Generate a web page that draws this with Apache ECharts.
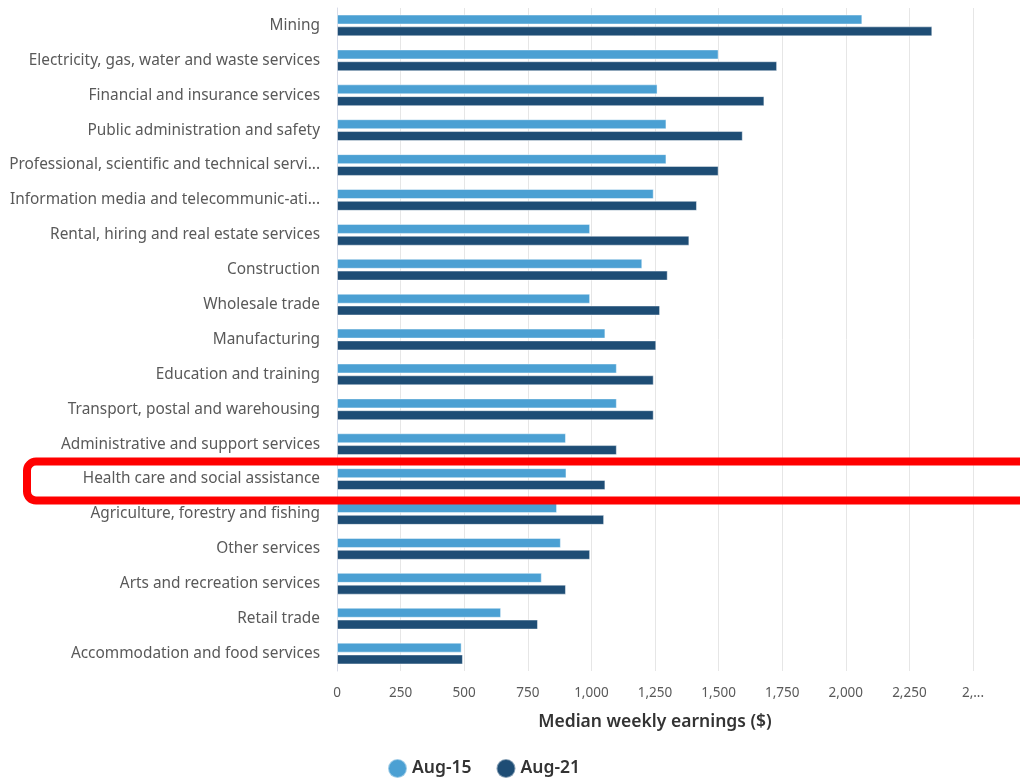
<!DOCTYPE html>
<html>
<head>
<meta charset="utf-8">
<script src="https://cdn.jsdelivr.net/npm/echarts@6/dist/echarts.min.js"></script>
<style>
  html, body { margin: 0; padding: 0; background: #ffffff; }
  #chart { width: 1020px; height: 780px; }
</style>
</head>
<body>
<div id="chart"></div>
<script>
// Industries, highest to lowest median weekly earnings (Aug-21)
const industries = [
  'Mining',
  'Electricity, gas, water and waste services',
  'Financial and insurance services',
  'Public administration and safety',
  'Professional, scientific and technical services',
  'Information media and telecommunic-ations',
  'Rental, hiring and real estate services',
  'Construction',
  'Wholesale trade',
  'Manufacturing',
  'Education and training',
  'Transport, postal and warehousing',
  'Administrative and support services',
  'Health care and social assistance',
  'Agriculture, forestry and fishing',
  'Other services',
  'Arts and recreation services',
  'Retail trade',
  'Accommodation and food services'
];

// Median weekly earnings ($)
const aug15 = [2065, 1500, 1260, 1295, 1295, 1245, 995, 1200, 995, 1055, 1100, 1100, 900, 902, 865, 880, 805, 645, 490];
const aug21 = [2340, 1730, 1680, 1595, 1500, 1415, 1385, 1300, 1270, 1255, 1245, 1245, 1100, 1055, 1050, 995, 900, 790, 495];

const seriesNames = ['Aug-15', 'Aug-21'];
const xTicks = { min: 0, max: 2500, step: 250 };
const highlighted = 'Health care and social assistance';

const chart = echarts.init(document.getElementById('chart'));

function fmt(v) {
  const s = String(v).replace(/\B(?=(\d{3})+(?!\d))/g, ',');
  return v >= xTicks.max ? s.slice(0, 2) + '...' : s;
}

chart.setOption({
  animation: false,
  textStyle: { fontFamily: '"Noto Sans", "Open Sans", sans-serif' },
  grid: { left: 337, right: 47, top: 8, bottom: 109 },
  legend: {
    data: seriesNames,
    left: 382,
    top: 753,
    icon: 'circle',
    itemWidth: 19,
    itemHeight: 19,
    itemGap: 24,
    textStyle: { fontSize: 17.5, fontWeight: 600, color: '#333333' }
  },
  xAxis: {
    type: 'value',
    min: xTicks.min,
    max: xTicks.max,
    interval: xTicks.step,
    name: 'Median weekly earnings ($)',
    nameLocation: 'middle',
    nameGap: 42,
    nameTextStyle: { fontSize: 17.5, fontWeight: 600, color: '#333333' },
    axisLine: { show: false },
    axisTick: { show: false },
    axisLabel: { fontSize: 13.5, color: '#595959', margin: 15, formatter: fmt },
    splitLine: { lineStyle: { color: '#e6e6e6', width: 1 } }
  },
  yAxis: {
    type: 'category',
    inverse: true,
    data: industries,
    axisTick: { show: false },
    axisLine: { lineStyle: { color: '#d8dbe8', width: 1 } },
    axisLabel: {
      fontSize: 15.4,
      color: '#595959',
      margin: 17,
      width: 315,
      overflow: 'truncate',
      ellipsis: '...'
    }
  },
  series: [
    {
      name: seriesNames[0],
      type: 'bar',
      data: aug15,
      barWidth: 10,
      barGap: '18%',
      itemStyle: { color: '#4ba0d3', borderColor: 'rgba(255,255,255,0.45)', borderWidth: 1 }
    },
    {
      name: seriesNames[1],
      type: 'bar',
      data: aug21,
      barWidth: 10,
      itemStyle: { color: '#1e4d75', borderColor: 'rgba(255,255,255,0.45)', borderWidth: 1 }
    }
  ]
});

// Red call-out box around the highlighted industry row
const yc = chart.convertToPixel({ yAxisIndex: 0 }, highlighted) + 2;
chart.setOption({
  graphic: [{
    type: 'rect',
    z: 100,
    shape: { x: 27, y: yc - 19.5, width: 1010, height: 39, r: 9 },
    style: { fill: 'none', stroke: '#ff0000', lineWidth: 8 }
  }]
});
</script>
</body>
</html>
